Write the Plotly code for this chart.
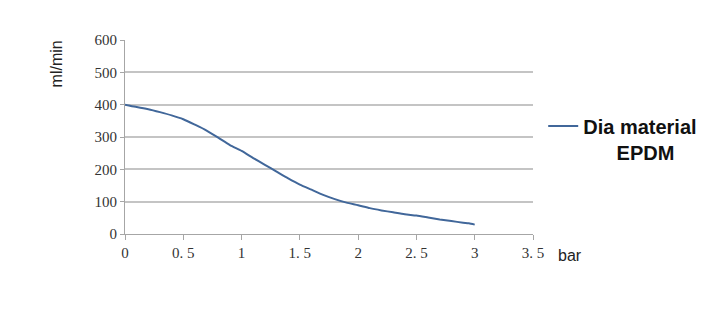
import plotly.graph_objects as go

pressure_bar = [0, 0.05, 0.1, 0.2, 0.3, 0.4, 0.5, 0.6, 0.7, 0.8, 0.9, 1.0, 1.1, 1.2, 1.3, 1.4,
                1.5, 1.6, 1.7, 1.8, 1.9, 2.0, 2.1, 2.2, 2.3, 2.4, 2.5, 2.6, 2.7, 2.8, 2.9, 2.95, 3.0]
flow_ml_min = [400, 396, 393, 386, 377, 367, 355, 338, 320, 298, 275, 257, 235, 214, 193, 172,
               153, 137, 121, 108, 97, 89, 80, 73, 67, 61, 57, 51, 45, 40, 35, 33, 29]

x_tickvals = [0, 0.5, 1, 1.5, 2, 2.5, 3, 3.5]
x_ticktext = ["0", "0. 5", "1", "1. 5", "2", "2. 5", "3", "3. 5"]
y_tickvals = [0, 100, 200, 300, 400, 500, 600]

series_name = "<b>Dia material</b><br><b>&nbsp;&nbsp;&nbsp;&nbsp;&nbsp;&nbsp;EPDM</b>"

fig = go.Figure()
fig.add_trace(go.Scatter(
    x=pressure_bar, y=flow_ml_min, mode="lines", name=series_name,
    line=dict(color="#41679a", width=2, shape="spline", smoothing=0.6),
))

tick_font = dict(family="Liberation Serif, DejaVu Serif, serif", size=15, color="#333333")

fig.update_layout(
    width=705, height=327,
    margin=dict(l=125, r=172, t=40, b=93, autoexpand=False),
    paper_bgcolor="white", plot_bgcolor="white",
    showlegend=True,
    legend=dict(x=1.025, y=0.49, xanchor="left", yanchor="middle", valign="top",
                font=dict(family="Liberation Sans, Arial, sans-serif", size=20, color="#111111"),
                itemwidth=30, bgcolor="rgba(0,0,0,0)"),
    xaxis=dict(range=[0, 3.5], tickvals=x_tickvals, ticktext=x_ticktext,
               showgrid=False, zeroline=False, showline=True, linecolor="#a6a6a6", linewidth=1,
               ticks="outside", ticklen=5, tickcolor="#a6a6a6", tickfont=tick_font, fixedrange=True),
    yaxis=dict(range=[0, 600], tickvals=y_tickvals,
               showgrid=True, gridcolor="#c4c4c4", gridwidth=1.5, zeroline=False,
               showline=True, linecolor="#a6a6a6", linewidth=1,
               ticks="outside", ticklen=4, tickcolor="#a6a6a6", tickfont=tick_font, fixedrange=True),
)

fig.add_annotation(text="ml/min", xref="paper", yref="paper", x=-0.167, y=1.01,
                   xanchor="center", yanchor="top", textangle=-90, showarrow=False,
                   font=dict(family="Liberation Sans, Arial, sans-serif", size=16, color="#222222"))
fig.add_annotation(text="bar", xref="paper", yref="paper", x=1.057, y=-0.055,
                   xanchor="left", yanchor="top", showarrow=False,
                   font=dict(family="Liberation Sans, Arial, sans-serif", size=16, color="#222222"))

fig.write_html("out.html")
